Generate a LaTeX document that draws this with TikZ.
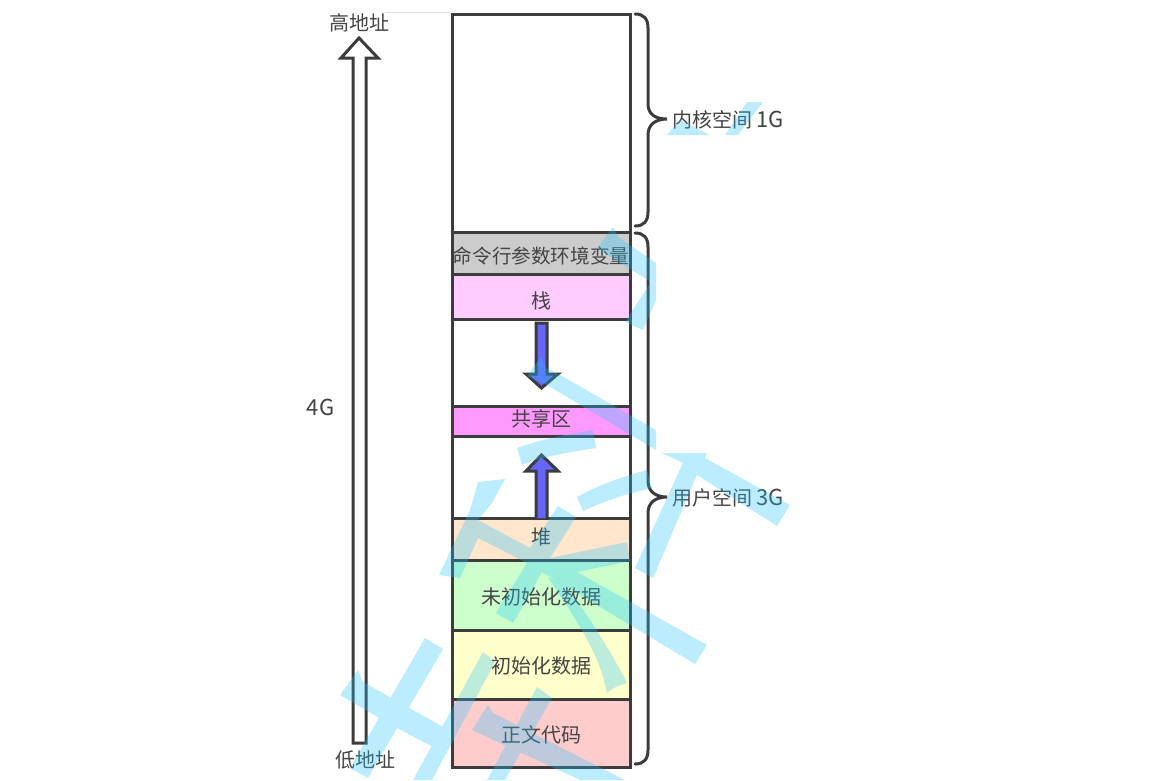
\documentclass[tikz,border=0pt]{standalone}
\usepackage{fontspec}
\setmainfont{Noto Sans CJK SC}
\definecolor{ink}{HTML}{3C3C3C}
\definecolor{txt}{HTML}{444444}
\definecolor{wm}{RGB}{35,198,255}
\definecolor{blockblue}{HTML}{6666FF}
\definecolor{stackpink}{HTML}{FFCCFF}
\definecolor{sharepink}{HTML}{FF99FF}
\definecolor{heappeach}{HTML}{FFE6CC}
\definecolor{bssgreen}{HTML}{CCFFCC}
\definecolor{datayellow}{HTML}{FFFFCC}
\definecolor{textred}{HTML}{FFCCCC}
\newcommand{\latinbig}[1]{{\fontsize{22}{22}\selectfont #1}}
\tikzset{
  seg/.style={draw=ink,line width=3pt,minimum width=178pt,inner sep=0pt,outer sep=0pt,text=txt,font=\fontsize{20}{20}\selectfont,text height=14pt,text depth=2pt},
  lbl/.style={text=txt,font=\fontsize{20}{20}\selectfont,inner sep=0pt},
  outline/.style={draw=ink,line width=3pt,line join=miter},
  brace/.style={draw=ink,line width=3pt,line cap=round},
  block/.style={draw=ink,line width=3pt,fill=blockblue,line join=miter},
}
\begin{document}
\begin{tikzpicture}[x=1pt,y=-1pt]
\useasboundingbox (0,0) rectangle (1159,780);
\fill[white] (0,0) rectangle (1159,780);
\draw[line width=.8pt,draw=black!12] (385,12.2) -- (450,12.2);
\draw[line width=.8pt,draw=black!6] (632,12.2) -- (640,12.2);

% segments
\node[seg,minimum height=218pt] (kernel) at (541,123) {};
\node[seg,fill=black!20,minimum height=42pt] (args) at (541,253) {\raisebox{-4pt}{\makebox[170pt]{\fontsize{19.6}{20}\selectfont 命令行参数环境变量}}};
\node[seg,fill=stackpink,minimum height=45pt] (stack) at (541,296.5) {\raisebox{-6pt}{栈}};
\node[seg,minimum height=87pt] (gapa) at (541,362.5) {};
\node[seg,fill=sharepink,minimum height=30pt] (shared) at (541,421) {\raisebox{1pt}{共享区}};
\node[seg,minimum height=82pt] (gapb) at (541,477) {};
\node[seg,fill=heappeach,minimum height=42pt] (heap) at (541,539) {\raisebox{1pt}{堆}};
\node[seg,fill=bssgreen,minimum height=70pt] (bss) at (541,595) {\raisebox{-3pt}{未初始化数据}};
\node[seg,fill=datayellow,minimum height=69pt] (data) at (541,664.5) {\raisebox{-3pt}{初始化数据}};
\node[seg,fill=textred,minimum height=68pt] (code) at (541,733) {\raisebox{-3pt}{正文代码}};

% long address arrow
\draw[outline,fill=white] (353,743) -- (353,58) -- (341,58) -- (359,38) -- (378,58) -- (366,58) -- (366,743) -- cycle;

% stack and heap arrows
\draw[block] (536,323) -- (547,323) -- (547,374) -- (558,374) -- (541.5,388) -- (526,374) -- (536,374) -- cycle;
\draw[block] (536,518) -- (536,471) -- (526,471) -- (541.5,455) -- (558,471) -- (547,471) -- (547,518);

% braces
\coordinate (ka) at (635,14);
\coordinate (kb) at (635,226);
\coordinate (ua) at (635,233);
\coordinate (ub) at (635,764);
\node[lbl,anchor=west] (klabel) at (672,120) {内核空间 \latinbig{1G}};
\node[lbl,anchor=west] (ulabel) at (672,498) {用户空间 \latinbig{3G}};
\draw[brace] (ka) .. controls (644,14) and (648,19) .. (648,28) -- (648,104) .. controls (648,114) and (655,119) .. (667,119) .. controls (655,119) and (648,125) .. (648,135) -- (648,212) .. controls (648,221) and (644,226) .. (kb);
\draw[brace] (ua) .. controls (644,233) and (648,238) .. (648,247) -- (648,481) .. controls (648,491) and (655,497) .. (667,497) .. controls (655,497) and (648,503) .. (648,513) -- (648,750) .. controls (648,759) and (644,764) .. (ub);

% free labels
\node[lbl] (high) at (359,23) {高地址};
\node[lbl] (low) at (365,760) {低地址};
\node[lbl] (size) at (320.5,407) {\latinbig{4G}};

% watermark strokes
\fill[wm,fill opacity=.3]
  (478,482) -- (505,479) -- (492,503) -- (478,520) -- (530,548) -- (558,506) -- (576,517) -- (550,558) -- (627,542) -- (630,561) -- (577,572) -- (707,645) -- (695,664) -- (542,572) -- (513,623) -- (496,613) -- (527,563) -- (478,538) -- (460,578) -- (439,575) -- (470,510) -- cycle
  (548,577) -- (565,585) .. controls (585,610) and (610,650) .. (627,683) .. controls (620,685) and (612,688) .. (607,693) .. controls (600,660) and (590,640) .. (548,577) -- cycle
  (541,357) -- (546,368) -- (560,375) -- (656,430) -- (656,450) -- (547,385) -- (527,376) -- cycle
  (662,453) -- (707,453) -- (705,458) -- (790,505) -- (777,526) -- (697,475) -- (653,578) -- (635,568) -- (683,463) -- cycle
  (517,448) .. controls (545,438) and (570,434) .. (593,430) -- (596,448) .. controls (570,452) and (545,456) .. (522,465) -- cycle
  (577,497) .. controls (600,484) and (625,476) .. (647,470) -- (652,488) .. controls (625,494) and (605,501) .. (583,511) -- cycle
  (340,695) -- (358,670) -- (363,682) -- (445,728) -- (433,747) -- (395,727) -- cycle
  (425,638) -- (443,649) -- (368,778) -- (350,768) -- cycle
  (483,652) -- (495,662) -- (432,780) -- (413,780) -- cycle
  (537,687) -- (552,698) -- (505,780) -- (487,780) -- cycle
  (488,705) -- (493,713) -- (625,780) -- (580,780) -- (472,730) -- cycle
  (613,227) -- (618,237) -- (656,263) -- (656,300) -- (643,330) -- (625,322) -- (651,282) -- (597,248) -- cycle
  (667,135) -- (680,120) -- (710,135) -- cycle
  (725,135) -- (747,102) -- (763,102) -- (738,135) -- cycle;
\end{tikzpicture}
\end{document}
